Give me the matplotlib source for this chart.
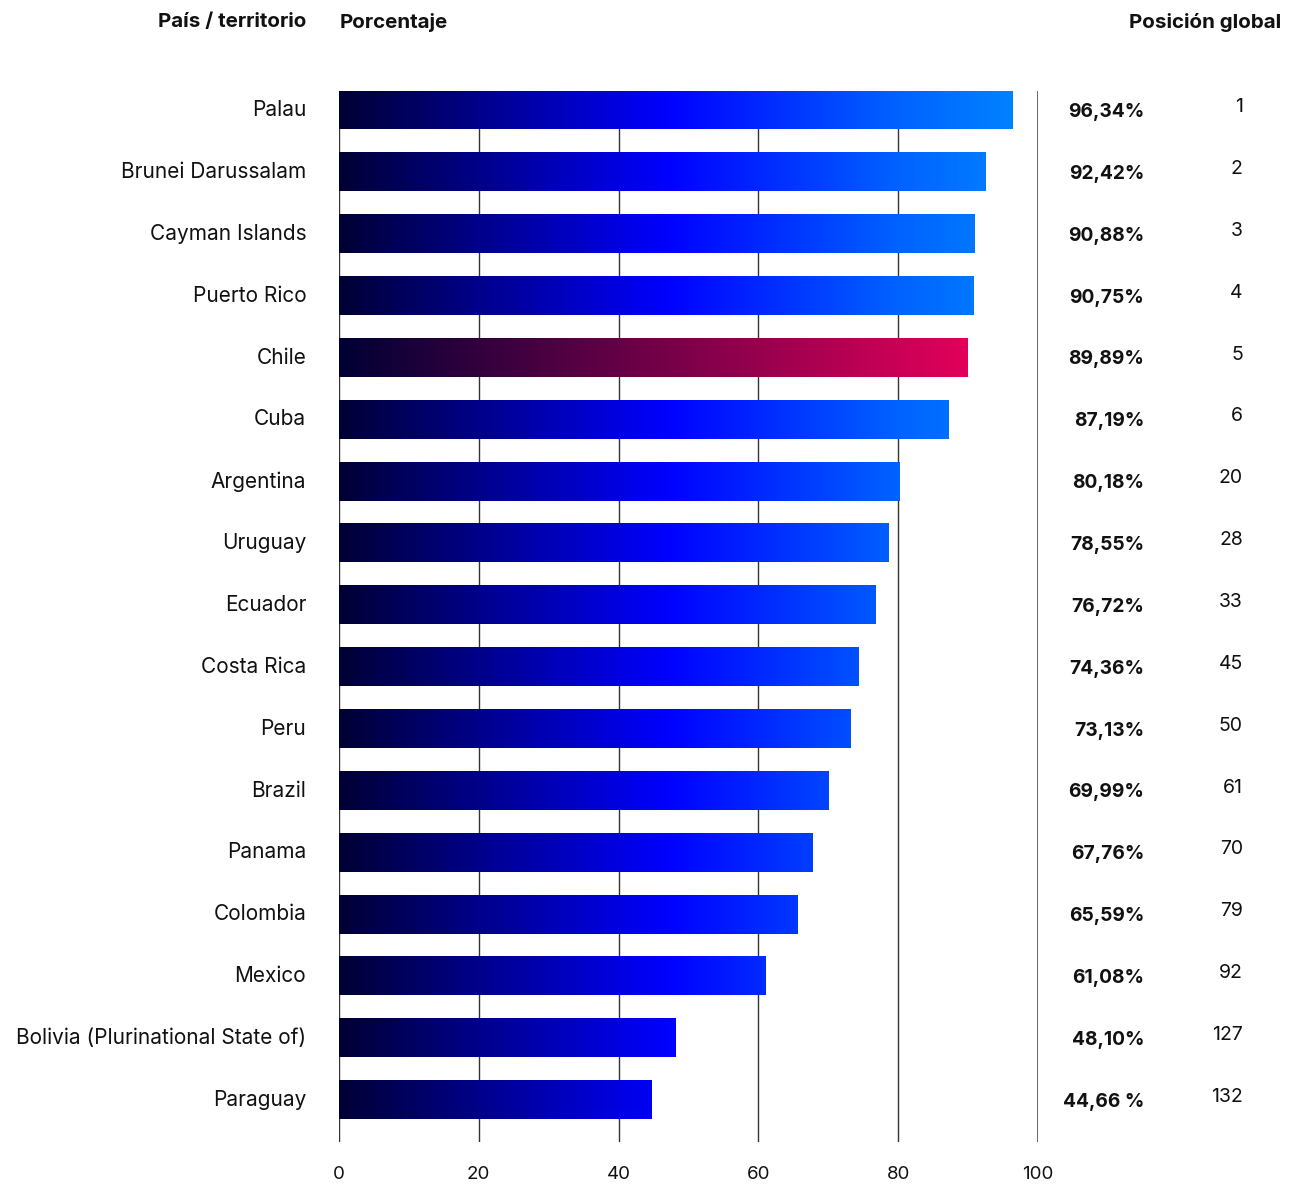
import numpy as np
import matplotlib
matplotlib.use("Agg")
import matplotlib.pyplot as plt
from matplotlib.colors import LinearSegmentedColormap

# data
paises = ["Palau", "Brunei Darussalam", "Cayman Islands", "Puerto Rico", "Chile",
          "Cuba", "Argentina", "Uruguay", "Ecuador", "Costa Rica", "Peru", "Brazil",
          "Panama", "Colombia", "Mexico", "Bolivia (Plurinational State of)", "Paraguay"]
valores = [96.34, 92.42, 90.88, 90.75, 89.89, 87.19, 80.18, 78.55, 76.72, 74.36,
           73.13, 69.99, 67.76, 65.59, 61.08, 48.10, 44.66]
etiquetas = ["96,34%", "92,42%", "90,88%", "90,75%", "89,89%", "87,19%", "80,18%",
             "78,55%", "76,72%", "74,36%", "73,13%", "69,99%", "67,76%", "65,59%",
             "61,08%", "48,10%", "44,66 %"]
posiciones = [1, 2, 3, 4, 5, 6, 20, 28, 33, 45, 50, 61, 70, 79, 92, 127, 132]
destacado = "Chile"
ticks = [0, 20, 40, 60, 80, 100]

plt.rcParams['font.family'] = ['Inter', 'DejaVu Sans']

azul = LinearSegmentedColormap.from_list(
    "azul", [(0.0, "#000035"), (0.47, "#0000ff"), (0.80, "#0062ff"), (1.0, "#0088ff")])
rojo = LinearSegmentedColormap.from_list("rojo", ["#000035", "#e2005a"])

fig = plt.figure(figsize=(12.93, 11.85), dpi=100)
ax = fig.add_axes([339 / 1293, 1 - 1142 / 1185, 699 / 1293, (1142 - 91) / 1185])

h = 0.62
for i, (p, v) in enumerate(zip(paises, valores)):
    xs = np.linspace(0, v, 400)
    if p == destacado:
        cols = rojo(xs / v)
    else:
        cols = azul(xs / 100)
    img = cols[np.newaxis, :, :]
    ax.imshow(img, extent=(0, v, i + h / 2, i - h / 2), aspect='auto',
              interpolation='bilinear', zorder=3)

for t in ticks:
    lw = 1.4 if t == 100 else 1.0
    c = "#666666" if t == 100 else "#333333"
    ax.axvline(t, color=c, lw=lw, zorder=1)

ax.set_xlim(0, 100)
ax.set_ylim(16.68, -0.31)
for s in ax.spines.values():
    s.set_visible(False)
ax.set_yticks([])
ax.set_xticks(ticks)
ax.set_xticklabels([str(t) for t in ticks], fontsize=13.5, color="#111111")
ax.tick_params(axis='x', length=0, pad=17)

# labels on the left and right columns
for i, (p, e, r) in enumerate(zip(paises, etiquetas, posiciones)):
    ax.text(-4.7, i, p, ha='right', va='center', fontsize=15, color="#111111")
    ax.text(115.2, i + 0.03, e, ha='right', va='center', fontsize=13.8,
            fontweight='bold', color="#111111")
    ax.text(129.3, i - 0.05, str(r), ha='right', va='center', fontsize=14,
            color="#111111")

fig.text(306 / 1293, 1 - 22 / 1185, "País / territorio", ha='right', va='center',
         fontsize=14.8, fontweight='bold', color="#111111")
fig.text(340 / 1293, 1 - 22 / 1185, "Porcentaje", ha='left', va='center',
         fontsize=14.8, fontweight='bold', color="#111111")
fig.text(1281 / 1293, 1 - 22 / 1185, "Posición global", ha='right', va='center',
         fontsize=14.8, fontweight='bold', color="#111111")

fig.savefig("out.png", dpi=100)
